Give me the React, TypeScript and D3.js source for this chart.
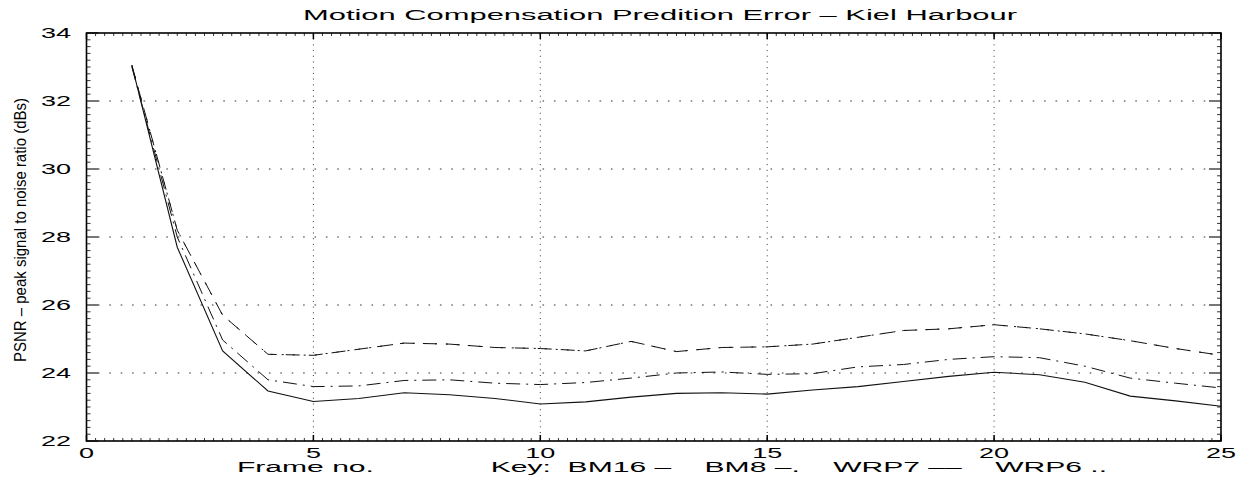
import React from "react";
import * as d3 from "d3";

const frames = [1,2,3,4,5,6,7,8,9,10,11,12,13,14,15,16,17,18,19,20,21,22,23,24,25];
const bm16 = [33.05,27.7,24.65,23.47,23.16,23.25,23.42,23.36,23.25,23.09,23.15,23.29,23.4,23.42,23.38,23.5,23.6,23.75,23.9,24.02,23.95,23.73,23.32,23.18,23.02];
const bm8 = [33.0,28.0,24.97,23.8,23.6,23.62,23.78,23.8,23.7,23.66,23.72,23.85,24.0,24.03,23.96,23.98,24.18,24.25,24.4,24.48,24.45,24.2,23.85,23.7,23.56];
const wrp7 = [33.05,28.2,25.7,24.55,24.52,24.7,24.88,24.85,24.75,24.72,24.65,24.93,24.63,24.75,24.77,24.85,25.05,25.25,25.3,25.42,25.3,25.15,24.95,24.72,24.52];
const wrp6 = [33.05,28.2,25.7,24.55,24.52,24.7,24.88,24.85,24.75,24.72,24.65,24.93,24.63,24.75,24.77,24.85,25.05,25.25,25.3,25.42,25.3,25.15,24.95,24.72,24.52];

const xTicks = [0,5,10,15,20,25];
const yTicks = [22,24,26,28,30,32,34];
const title = "Motion Compensation Predition Error \u2013 Kiel Harbour";
const xLabel = "Frame no.              Key:  BM16 \u2013    BM8 \u2013.    WRP7 \u2013\u2013    WRP6 ..";
const yLabel = "PSNR \u2013 peak signal to noise ratio (dBs)";

const W = 1249, H = 479;
const L = 86.5, R = 1221, T = 33, B = 441;
const FONT = "'Liberation Sans', Arial, Helvetica, sans-serif";

export default function App() {
  const x = d3.scaleLinear().domain([0, 25]).range([L, R]);
  const y = d3.scaleLinear().domain([22, 34]).range([B, T]);
  const line = d3.line<number>().x((_, i) => x(frames[i])).y((d) => y(d)).curve(d3.curveLinear);

  const xMinor = d3.range(0, 25.001, 0.2);
  const yMinor = d3.range(22, 34.001, 0.2);

  const series = [
    { v: bm16, dash: "none", w: 1.1 },
    { v: bm8, dash: "14,6,2,6", w: 1 },
    { v: wrp7, dash: "14,9", w: 1 },
    { v: wrp6, dash: "2,9", w: 1 },
  ];

  return (
    <svg width={W} height={H} style={{ position: "fixed", left: 0, top: 0, background: "#fff" }} fontFamily={FONT}>
      <rect x={0} y={0} width={W} height={H} fill="#fff" />
      {/* grid */}
      {yTicks.filter((t) => t > 22 && t < 34).map((t) => (
        <line key={"gy" + t} x1={L} x2={R} y1={y(t)} y2={y(t)} stroke="#333" strokeWidth={1} strokeDasharray="1.6,9.8" />
      ))}
      {xTicks.filter((t) => t > 0 && t < 25).map((t) => (
        <line key={"gx" + t} x1={x(t)} x2={x(t)} y1={T} y2={B} stroke="#333" strokeWidth={1} strokeDasharray="1,4.7" />
      ))}
      {/* minor ticks */}
      {xMinor.map((t, i) => (
        <g key={"xm" + i}>
          <line x1={x(t)} x2={x(t)} y1={T} y2={T + 3} stroke="#000" strokeWidth={0.8} />
          <line x1={x(t)} x2={x(t)} y1={B} y2={B - 3} stroke="#000" strokeWidth={0.8} />
        </g>
      ))}
      {yMinor.map((t, i) => (
        <g key={"ym" + i}>
          <line x1={L} x2={L + 4} y1={y(t)} y2={y(t)} stroke="#000" strokeWidth={0.8} />
          <line x1={R} x2={R - 4} y1={y(t)} y2={y(t)} stroke="#000" strokeWidth={0.8} />
        </g>
      ))}
      {/* major ticks */}
      {xTicks.map((t) => (
        <g key={"xt" + t}>
          <line x1={x(t)} x2={x(t)} y1={B} y2={B - 6} stroke="#000" strokeWidth={1.5} />
          <line x1={x(t)} x2={x(t)} y1={T} y2={T + 6} stroke="#000" strokeWidth={1.5} />
        </g>
      ))}
      {yTicks.map((t) => (
        <g key={"yt" + t}>
          <line x1={L} x2={L + 12} y1={y(t)} y2={y(t)} stroke="#777" strokeWidth={2} />
          <line x1={R} x2={R - 12} y1={y(t)} y2={y(t)} stroke="#777" strokeWidth={2} />
        </g>
      ))}
      {/* data */}
      {series.map((s, i) => (
        <path key={"s" + i} d={line(s.v) || ""} fill="none" stroke="#111" strokeWidth={s.w} strokeDasharray={s.dash} />
      ))}
      {/* frame */}
      <rect x={L} y={T} width={R - L} height={B - T} fill="none" stroke="#000" strokeWidth={1.6} />
      {/* tick labels */}
      {xTicks.map((t) => (
        <text key={"xl" + t} transform={`translate(${x(t)},458) scale(1.93,1)`} textAnchor="middle" fontSize={14}>{t}</text>
      ))}
      {yTicks.map((t) => (
        <text key={"yl" + t} transform={`translate(71,${y(t) + 5}) scale(1.93,1)`} textAnchor="end" fontSize={14}>{t}</text>
      ))}
      {/* title */}
      <text x={303} y={20} fontSize={14} textLength={714} lengthAdjust="spacingAndGlyphs">{title}</text>
      {/* x label */}
      <text x={237} y={472} fontSize={14} textLength={870} lengthAdjust="spacingAndGlyphs" style={{ whiteSpace: "pre" }}>{xLabel}</text>
      {/* y label */}
      <text transform="translate(26,362) rotate(-90)" x={0} y={0} fontSize={17} textLength={264} lengthAdjust="spacingAndGlyphs">{yLabel}</text>
    </svg>
  );
}
